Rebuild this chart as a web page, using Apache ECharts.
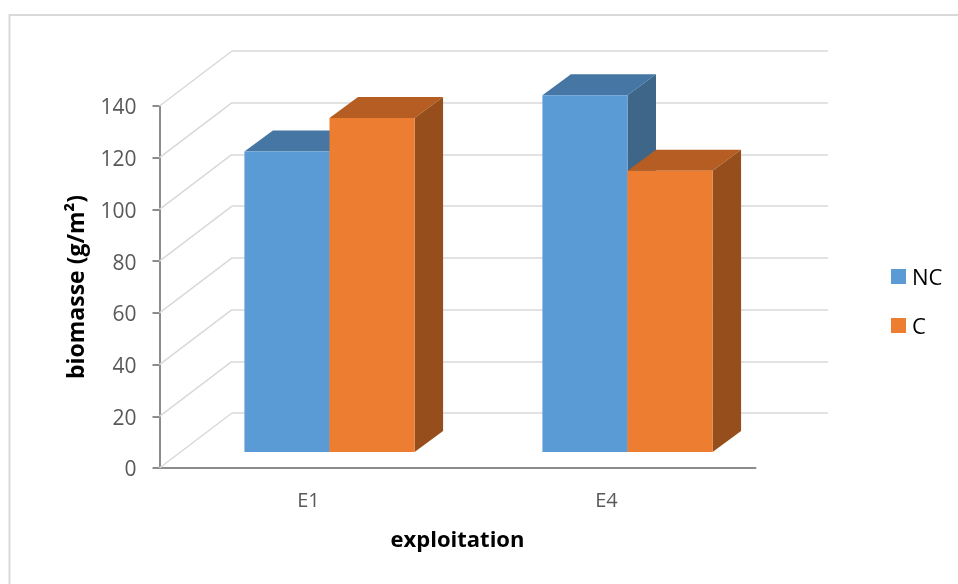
<!DOCTYPE html>
<html><head><meta charset="utf-8">
<style>html,body{margin:0;padding:0;background:#fff}#c{width:958px;height:584px}</style>
<script src="https://cdn.jsdelivr.net/npm/echarts@6/dist/echarts.min.js"></script>
</head><body><div id="c"></div>
<script>
const categories = ['E1', 'E4'];
const seriesNC = [116.2, 138];
const seriesC = [129.2, 108.8];
const yTicks = [0, 20, 40, 60, 80, 100, 120, 140];

const FONT = '"Open Sans", Lato, sans-serif';
const chart = echarts.init(document.getElementById('c'), null, {renderer: 'canvas'});

function wallItem(params, api) {
  const p = api.coord([0, api.value(0)]);
  const x0 = params.coordSys.x;
  return {type: 'line', silent: true,
    shape: {x1: x0, y1: p[1], x2: x0 + 72.5, y2: p[1] - 55},
    style: {stroke: '#d9d9d9', lineWidth: 1.5}};
}
function barRenderer(sign, front, top, side) {
  return function (params, api) {
    const cat = api.value(0), base = api.coord([cat, 0]), head = api.coord([cat, api.value(1)]);
    const w = api.size([1, 0])[0] * 0.2855;
    const cx = base[0] + 21, lift = 16;
    const l = sign < 0 ? cx - w : cx, r = l + w;
    const yb = base[1] - lift, yt = head[1] - lift;
    const dx = 28.5, dy = 21;
    return {type: 'group', children: [
      {type: 'polygon', shape: {points: [[l, yt], [r, yt], [r + dx, yt - dy], [l + dx, yt - dy]]}, style: {fill: top}},
      {type: 'polygon', shape: {points: [[r, yt], [r + dx, yt - dy], [r + dx, yb - dy], [r, yb]]}, style: {fill: side}},
      {type: 'rect', shape: {x: l, y: yt, width: w, height: yb - yt}, style: {fill: front}}
    ]};
  };
}
const toPairs = arr => arr.map((v, i) => [i, v]);

chart.setOption({
  animation: false,
  backgroundColor: '#fff',
  textStyle: {fontFamily: FONT},
  grid: [
    {left: 159.5, top: 106, width: 596, height: 362},
    {left: 232, top: 51, width: 596, height: 362}
  ],
  xAxis: [
    {type: 'category', gridIndex: 0, data: categories,
     axisLine: {lineStyle: {color: '#8c8c8c', width: 2}}, axisTick: {show: false},
     axisLabel: {color: '#595959', fontSize: 20, margin: 23, fontFamily: FONT},
     name: 'exploitation', nameLocation: 'middle', nameGap: 62,
     nameTextStyle: {color: '#000', fontSize: 22, fontWeight: 'bold', fontFamily: FONT}},
    {type: 'category', gridIndex: 1, data: categories, show: false}
  ],
  yAxis: [
    {type: 'value', gridIndex: 0, min: 0, max: 140, interval: 20,
     axisLine: {show: true, lineStyle: {color: '#8c8c8c', width: 2}},
     axisTick: {show: true, length: 7, lineStyle: {color: '#8c8c8c', width: 2}},
     splitLine: {show: false},
     axisLabel: {formatter: '{a|{value}}', margin: 23,
       rich: {a: {color: '#595959', fontSize: 21, fontFamily: FONT, padding: [5, 0, 0, 0]}}},
     name: 'biomasse (g/m²)', nameLocation: 'middle', nameGap: 71,
     nameTextStyle: {color: '#000', fontSize: 23, fontWeight: 'bold', fontFamily: FONT}},
    {type: 'value', gridIndex: 1, min: 0, max: 140, interval: 20,
     axisLine: {show: false}, axisTick: {show: false}, axisLabel: {show: false},
     splitLine: {show: true, lineStyle: {color: '#d9d9d9', width: 1.5}}}
  ],
  legend: {
    orient: 'vertical', left: 891, top: 267.5, padding: 0, itemWidth: 15, itemHeight: 15, itemGap: 27,
    icon: 'rect', data: ['NC', 'C'], formatter: '{a|{name}}',
    textStyle: {rich: {a: {color: '#000', fontSize: 22, fontFamily: FONT, padding: [4, 0, 0, 1]}}}
  },
  series: [
    {type: 'custom', name: 'walls', xAxisIndex: 0, yAxisIndex: 0, z: 1, silent: true, clip: false,
     data: yTicks.map(v => [v]), encode: {y: 0}, renderItem: wallItem},
    {type: 'custom', name: 'NC', xAxisIndex: 0, yAxisIndex: 0, z: 3, clip: false,
     itemStyle: {color: '#5b9bd5'}, data: toPairs(seriesNC), encode: {x: 0, y: 1},
     renderItem: barRenderer(-1, '#5b9bd5', '#4676a3', '#3d6689')},
    {type: 'custom', name: 'C', xAxisIndex: 0, yAxisIndex: 0, z: 4, clip: false,
     itemStyle: {color: '#ed7d31'}, data: toPairs(seriesC), encode: {x: 0, y: 1},
     renderItem: barRenderer(1, '#ed7d31', '#b55d22', '#964f1c')}
  ],
  graphic: [{type: 'polyline', silent: true, z: 0,
    shape: {points: [[9.5, 584], [9.5, 15], [958, 15]]},
    style: {fill: null, stroke: '#d9d9d9', lineWidth: 2}}]
});
</script></body></html>
